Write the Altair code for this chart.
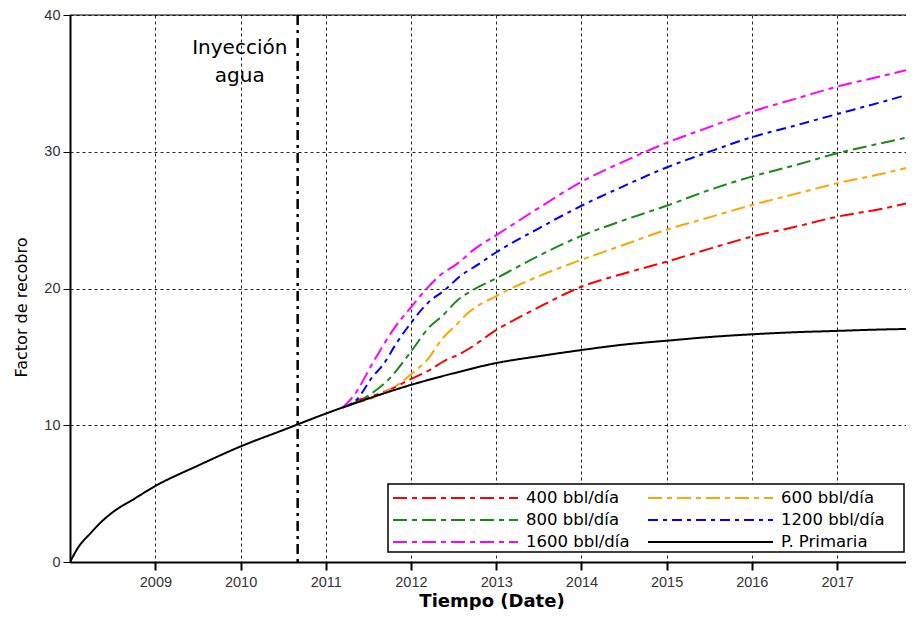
import altair as alt
import pandas as pd

# ---- data (decimal year, recovery factor %) ----
prim_t = [2008.0, 2008.1, 2008.24, 2008.37, 2008.51, 2008.73, 2009.0, 2009.5, 2010.0, 2010.5,
          2011.0, 2011.5, 2012.0, 2012.5, 2013.0, 2013.5, 2014.0, 2014.5, 2015.0, 2015.5,
          2016.0, 2016.5, 2017.0, 2017.5, 2017.9]
prim_v = [0.0, 1.1, 2.1, 2.95, 3.68, 4.53, 5.56, 7.05, 8.45, 9.65,
          10.85, 11.95, 12.95, 13.8, 14.55, 15.05, 15.5, 15.9, 16.18, 16.45,
          16.65, 16.8, 16.9, 17.0, 17.05]

q1600_t = [2011.2, 2011.32, 2011.55, 2011.67, 2011.79, 2011.99, 2012.18, 2012.35, 2012.55, 2012.75,
           2013.0, 2013.5, 2014.0, 2014.5, 2015.0, 2015.5, 2016.0, 2016.5, 2017.0, 2017.5, 2017.9]
q1600_v = [11.3, 12.09, 14.53, 15.8, 16.97, 18.55, 19.95, 21.0, 21.84, 22.9,
           23.9, 25.9, 27.8, 29.3, 30.65, 31.8, 32.93, 33.85, 34.76, 35.5, 36.1]

q1200_t = [2011.2, 2011.36, 2011.55, 2011.67, 2011.83, 2011.99, 2012.2, 2012.4, 2012.57, 2012.8,
           2013.0, 2013.5, 2014.0, 2014.5, 2015.0, 2015.5, 2016.0, 2016.5, 2017.0, 2017.5, 2017.9]
q1200_v = [11.3, 11.85, 13.55, 14.4, 16.0, 17.4, 18.95, 19.9, 20.86, 21.8,
           22.65, 24.4, 26.05, 27.5, 28.85, 30.0, 31.06, 31.9, 32.76, 33.6, 34.3]

q800_t = [2011.25, 2011.48, 2011.75, 2011.99, 2012.22, 2012.37, 2012.55, 2012.73,
          2013.0, 2013.5, 2014.0, 2014.5, 2015.0, 2015.5, 2016.0, 2016.5, 2017.0, 2017.5, 2017.9]
q800_v = [11.4, 12.09, 13.43, 15.3, 17.2, 18.0, 19.16, 19.9,
          20.75, 22.4, 23.85, 25.0, 26.05, 27.2, 28.18, 29.0, 29.89, 30.6, 31.15]

q600_t = [2011.3, 2011.63, 2011.87, 2011.99, 2012.22, 2012.34, 2012.55, 2012.65,
          2013.0, 2013.5, 2014.0, 2014.5, 2015.0, 2015.5, 2016.0, 2016.5, 2017.0, 2017.5, 2017.9]
q600_v = [11.55, 12.2, 13.07, 13.67, 15.0, 16.1, 17.45, 18.1,
          19.45, 20.9, 22.1, 23.2, 24.3, 25.2, 26.1, 26.9, 27.7, 28.35, 28.96]

q400_t = [2011.35, 2011.71, 2011.99, 2012.22, 2012.41, 2012.55, 2012.69, 2013.0, 2013.24, 2013.51,
          2014.0, 2014.5, 2015.0, 2015.5, 2016.0, 2016.5, 2017.0, 2017.5, 2017.9]
q400_v = [11.8, 12.5, 13.35, 14.04, 14.77, 15.14, 15.63, 16.97, 17.8, 18.67,
          20.13, 21.1, 21.96, 22.9, 23.79, 24.5, 25.25, 25.8, 26.35]

series_names = ["400 bbl/día", "600 bbl/día", "800 bbl/día", "1200 bbl/día", "1600 bbl/día", "P. Primaria"]
series_colors = ["#ff0000", "#ffa500", "#168c16", "#0000ff", "#ff00ff", "#000000"]
series_dash = [[14, 5, 5, 5], [14, 5, 5, 5], [14, 5, 5, 5], [10, 5, 4, 5], [14, 5, 5, 5], [1, 0]]

injection_t = 2010.67
injection_label = ["Inyección", "agua"]
year_ticks = [2009, 2010, 2011, 2012, 2013, 2014, 2015, 2016, 2017]
y_ticks = [0, 10, 20, 30, 40]


def to_date(t):
    y = int(t)
    return pd.Timestamp(year=y, month=1, day=1) + pd.Timedelta(days=(t - y) * 365.25)


rows = []
for name, ts, vs in [
    ("400 bbl/día", q400_t, q400_v),
    ("600 bbl/día", q600_t, q600_v),
    ("800 bbl/día", q800_t, q800_v),
    ("1200 bbl/día", q1200_t, q1200_v),
    ("1600 bbl/día", q1600_t, q1600_v),
    ("P. Primaria", prim_t, prim_v),
]:
    for t, v in zip(ts, vs):
        rows.append({"serie": name, "fecha": to_date(t), "fr": v})
df = pd.DataFrame(rows)

PW, PH = 843, 547

x_scale = alt.Scale(domain=[alt.DateTime(year=2008, month=1, date=1),
                            alt.DateTime(year=2017, month=11, date=22)])
y_scale = alt.Scale(domain=[0, 40])

x_axis = alt.Axis(
    title="Tiempo (Date)", format="%Y",
    values=[alt.DateTime(year=y, month=1, date=1) for y in year_ticks],
    grid=True, gridColor="#222", gridDash=[3, 3], gridWidth=1, gridOpacity=1,
    domainColor="black", domainWidth=2, tickColor="black", tickWidth=2, tickSize=8,
    labelFont="Liberation Sans", labelFontSize=14.5, labelColor="#333", labelPadding=5,
    titleFont="DejaVu Sans", titleFontSize=18, titleFontWeight="bold", titleColor="black",
    titlePadding=4,
)
y_axis = alt.Axis(
    title="Factor de recobro", values=y_ticks,
    grid=True, gridColor="#222", gridDash=[3, 3], gridWidth=1, gridOpacity=1,
    domainColor="black", domainWidth=2, tickColor="black", tickWidth=1, tickSize=7,
    labelFont="Liberation Sans", labelFontSize=14.5, labelColor="#333", labelPadding=3,
    titleFont="DejaVu Sans", titleFontSize=16, titleFontWeight="normal", titleColor="black",
    titlePadding=14, titleY=292,
)

lines = alt.Chart(df).mark_line(strokeWidth=2, clip=True, interpolate="monotone").encode(
    x=alt.X("fecha:T", scale=x_scale, axis=x_axis),
    y=alt.Y("fr:Q", scale=y_scale, axis=y_axis),
    color=alt.Color("serie:N", scale=alt.Scale(domain=series_names, range=series_colors), legend=None),
    strokeDash=alt.StrokeDash("serie:N", scale=alt.Scale(domain=series_names, range=series_dash), legend=None),
    order=alt.Order("fecha:T"),
)

inj_df = pd.DataFrame({"fecha": [to_date(injection_t)]})
inj_rule = alt.Chart(inj_df).mark_rule(color="black", strokeWidth=2.5, strokeDash=[10, 5, 3, 5]).encode(
    x="fecha:T"
)

txt_df = pd.DataFrame({"fecha": [to_date(2009.99)], "fr": [37.6], "label": [injection_label]})
inj_text = alt.Chart(txt_df).mark_text(
    font="DejaVu Sans", fontSize=20, color="black", align="center", baseline="middle", lineHeight=28
).encode(x="fecha:T", y="fr:Q", text="label")

top_df = pd.DataFrame({"fr": [40]})
top_rule = alt.Chart(top_df).mark_rule(color="black", strokeWidth=1).encode(y="fr:Q")

# ---- legend drawn as a box with entries (two columns, row-major) ----
one = pd.DataFrame({"k": [0]})
leg_box = alt.Chart(one).mark_rect(fill="white", stroke="black", strokeWidth=1.5).encode(
    x=alt.value(318), x2=alt.value(834), y=alt.value(469), y2=alt.value(537)
)
legend_layers = [leg_box]
col_sym_x = [323, 578]
sym_len = 125
row_y = [483, 505, 527]
for i, (name, colr, dash) in enumerate(zip(series_names, series_colors, series_dash)):
    c, r = i % 2, i // 2
    x0 = col_sym_x[c]
    yc = row_y[r]
    sym = alt.Chart(one).mark_rule(color=colr, strokeWidth=2, strokeDash=dash).encode(
        x=alt.value(x0), x2=alt.value(x0 + sym_len), y=alt.value(yc)
    )
    lab = alt.Chart(pd.DataFrame({"name": [name]})).mark_text(
        font="DejaVu Sans", fontSize=16.5, color="black", align="left", baseline="middle"
    ).encode(x=alt.value(x0 + sym_len + 8), y=alt.value(yc), text="name:N")
    legend_layers += [sym, lab]

# right padding negative: the plot runs to the window's edge, as in the reference
chart = alt.layer(top_rule, lines, inj_rule, inj_text, *legend_layers).properties(
    width=PW, height=PH,
    padding={"left": 62, "top": 7, "right": -7, "bottom": 48},
    autosize=alt.AutoSizeParams(type="none"),
).configure_view(stroke=None)

chart.save("out.html", embed_options={"renderer": "svg", "actions": False})
